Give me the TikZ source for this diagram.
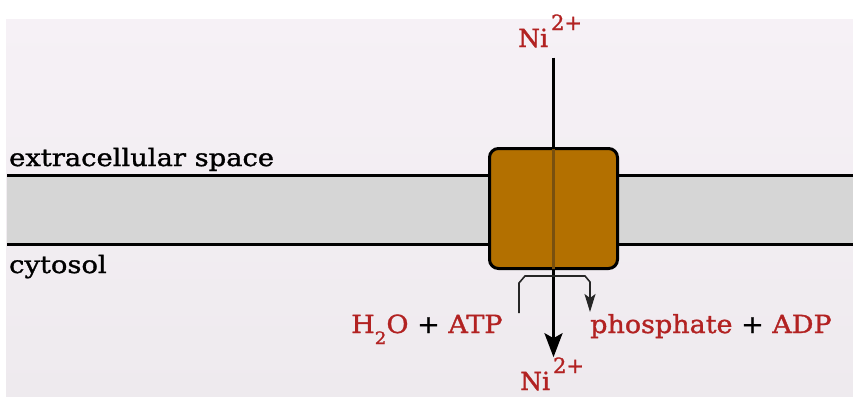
\documentclass[tikz,border=0pt]{standalone}
\usepackage{fontspec}
\setmainfont{DejaVu Serif}[FakeBold=1.3]
\newfontfamily\ionserif{DejaVu Serif}[FakeBold=1.3]
\newfontfamily\wideserif{DejaVu Serif}[FakeStretch=1.14, FakeBold=1.3]
\newfontfamily\redserif{DejaVu Serif}[FakeStretch=1.08, FakeBold=1.3]
\usetikzlibrary{arrows.meta}
\definecolor{nired}{RGB}{178,34,34}
\definecolor{bgtop}{RGB}{246,241,246}
\definecolor{bgbot}{RGB}{238,234,238}
\definecolor{memgray}{RGB}{214,214,214}
\definecolor{pumpfill}{RGB}{179,112,0}
\definecolor{pumpline}{RGB}{120,80,15}
\tikzset{
  lbl/.style={font=\wideserif\fontsize{24bp}{28bp}\selectfont, inner sep=0pt, anchor=base west, text=black},
  rxn/.style={font=\redserif\fontsize{25bp}{29bp}\selectfont, inner sep=0pt, anchor=base west, text=nired},
  ion/.style={font=\ionserif\fontsize{25bp}{29bp}\selectfont, inner sep=0pt, anchor=base west, text=nired},
  memline/.style={line width=3bp, draw=black},
  pump/.style={draw=black, line width=3bp, fill=pumpfill, rounded corners=9bp, minimum width=128bp, minimum height=120bp, inner sep=0pt},
  mainarrow/.style={line width=3bp, draw=black, -{Stealth[length=24bp, width=18bp, inset=5bp]}},
  reactarrow/.style={line width=1.6bp, draw=black!85, -{Stealth[length=18bp, width=11bp, inset=4bp]}}
}
\newcommand{\ionsup}{\kern3bp\raisebox{17bp}{\fontsize{21bp}{21bp}\selectfont 2+}}
\begin{document}
\begin{tikzpicture}[x=1bp, y=-1bp]
\useasboundingbox (0,0) rectangle (853,396);
% background
\shade[top color=bgtop, bottom color=bgbot] (6,19) rectangle (853,396);
% membrane
\fill[memgray] (7,175) rectangle (853,244);
\draw[memline] (7,175) -- (853,175);
\draw[memline] (7,244) -- (853,244);
% labels
\node[lbl] (ext) at (9,166) {extracellular space};
\node[lbl] (cyt) at (9,273) {cytosol};
% ions
\node[ion] (nitop) at (518,47) {Ni\ionsup};
\node[ion] (nibot) at (520,390) {Ni\ionsup};
% transporter box position
\coordinate (boxc) at (553.5,208.5);
% main arrow
\draw[mainarrow] ([yshift=-10bp]nitop.south -| boxc) -- (nibot.north -| boxc);
% transporter
\node[pump] (box) at (boxc) {};
\draw[pumpline, line width=3bp, shorten >=1.5bp, shorten <=1.5bp] (box.north) -- (box.south);
% reaction
\node[rxn] (atp) at (351,333) {H\raisebox{-11bp}{\fontsize{17bp}{17bp}\selectfont 2}O \textcolor{black}{+} ATP};
\node[rxn] (pad) at (590,333) {phosphate \textcolor{black}{+} ADP};
\coordinate (rs) at (519,313);
\coordinate (re) at (590,312);
\draw[reactarrow] (rs) -- ++(0,-30) -- ++(6,-7) -- ++(60,0) -- ++(5,6) -- (re);
\end{tikzpicture}
\end{document}
